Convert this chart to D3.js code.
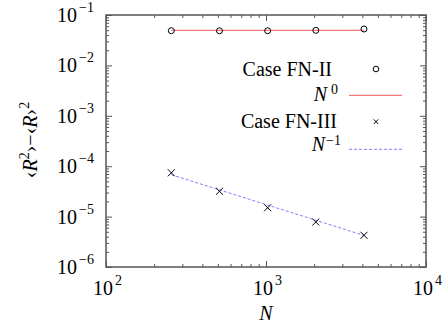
<!DOCTYPE html>
<html lang="en">
<head>
<meta charset="UTF-8">
<title>variance vs N</title>
<script src="https://d3js.org/d3.v7.min.js"></script>
<style>
  body { margin: 0; background: #fff; }
</style>
</head>
<body>
<div id="chart"></div>
<script>
  // data
  const sizes = [256, 512, 1024, 2048, 4096];
  const caseII = [0.0488, 0.0486, 0.0487, 0.0496, 0.0527];
  const caseIII = [7.4e-5, 3.18e-5, 1.50e-5, 7.8e-6, 4.26e-6];
  const fitII = 0.0496;          // N^0
  const fitIII = 0.01734;        // c * N^-1
  const xTicks = [2, 3, 4];      // exponents
  const yTicks = [-1, -2, -3, -4, -5, -6];

  const w = 447, h = 327;
  const pl = 106, pr = 426, pt = 15, pb = 267;
  const serif = "Liberation Serif";

  const svg = d3.select("#chart").append("svg")
    .attr("width", w)
    .attr("height", h)
    .attr("font-family", serif);

  const x = d3.scaleLog().domain([1e2, 1e4]).range([pl, pr]);
  const y = d3.scaleLog().domain([1e-6, 1e-1]).range([pb, pt]);

  // minor ticks 2..9 inside each decade
  const minorsX = [], minorsY = [];
  for (let e = 2; e < 4; e++) for (let k = 2; k < 10; k++) minorsX.push(k * Math.pow(10, e));
  for (let e = -6; e < -1; e++) for (let k = 2; k < 10; k++) minorsY.push(k * Math.pow(10, e));
  const majorsX = xTicks.map(e => Math.pow(10, e));
  const majorsY = yTicks.map(e => Math.pow(10, e));

  function ticks(axisFn, scale, vals, size, tx, ty) {
    svg.append("g")
      .attr("transform", `translate(${tx},${ty})`)
      .call(axisFn(scale).tickValues(vals).tickSize(size).tickFormat(""))
      .call(g => g.select(".domain").remove())
      .call(g => g.selectAll("line").attr("stroke", "#555").attr("stroke-width", 1));
  }
  // ticks point inwards on all four sides
  ticks(d3.axisBottom, x, majorsX, -6, 0, pb);
  ticks(d3.axisBottom, x, minorsX, -3, 0, pb);
  ticks(d3.axisTop, x, majorsX, -6, 0, pt);
  ticks(d3.axisTop, x, minorsX, -3, 0, pt);
  ticks(d3.axisLeft, y, majorsY, -6, pl, 0);
  ticks(d3.axisLeft, y, minorsY, -3, pl, 0);
  ticks(d3.axisRight, y, majorsY, -6, pr, 0);
  ticks(d3.axisRight, y, minorsY, -3, pr, 0);

  svg.append("rect")
    .attr("x", pl).attr("y", pt)
    .attr("width", pr - pl).attr("height", pb - pt)
    .attr("fill", "none")
    .attr("stroke", "#555")
    .attr("stroke-width", 1.5);

  function label(xx, yy, str, size, anchor, italic) {
    return svg.append("text")
      .attr("x", xx).attr("y", yy)
      .attr("text-anchor", anchor || "start")
      .attr("font-family", serif)
      .attr("font-size", size)
      .attr("font-style", italic ? "italic" : "normal")
      .attr("fill", "#000")
      .text(str);
  }

  // tick labels 10^n
  yTicks.forEach(e => {
    const yy = y(Math.pow(10, e));
    label(77, yy + 7, "10", 20, "end");
    label(79, yy - 3, "−" + (-e), 14);
  });
  xTicks.forEach(e => {
    const xx = x(Math.pow(10, e));
    label(xx + 7, 295, "10", 20, "end");
    label(xx + 9, 285, String(e), 14);
  });

  // axis titles
  label(x(1e3), 320, "N", 20, "middle", true);

  const yl = svg.append("text")
    .attr("transform", "translate(37,140) rotate(-90)")
    .attr("text-anchor", "middle")
    .attr("font-family", serif)
    .attr("font-size", 20);
  yl.append("tspan").text("‹");
  yl.append("tspan").attr("font-style", "italic").text("R");
  yl.append("tspan").attr("dy", -8).attr("font-size", 14).text("2");
  yl.append("tspan").attr("dy", 8).text("›−‹");
  yl.append("tspan").attr("font-style", "italic").text("R");
  yl.append("tspan").text("›");
  yl.append("tspan").attr("dy", -8).attr("font-size", 14).text("2");

  // fit lines
  const line = d3.line().x(d => x(d[0])).y(d => y(d[1]));
  svg.append("path")
    .datum(sizes.map(n => [n, fitII]))
    .attr("d", line)
    .attr("fill", "none").attr("stroke", "#f07878").attr("stroke-width", 1.2);
  svg.append("path")
    .datum(sizes.map(n => [n, fitIII / n]))
    .attr("d", line)
    .attr("fill", "none").attr("stroke", "#7f7fff").attr("stroke-width", 1)
    .attr("stroke-dasharray", "3,2");

  // markers
  svg.selectAll(".ii").data(sizes).enter().append("circle")
    .attr("cx", d => x(d))
    .attr("cy", (d, i) => y(caseII[i]))
    .attr("r", 3)
    .attr("fill", "none").attr("stroke", "#000").attr("stroke-width", 1);

  const cross = d3.symbol().type(d3.symbolTimes).size(34);
  svg.selectAll(".iii").data(sizes).enter().append("path")
    .attr("transform", (d, i) => `translate(${x(d)},${y(caseIII[i])})`)
    .attr("d", cross)
    .attr("fill", "none").attr("stroke", "#000").attr("stroke-width", 1);

  // legend
  label(332, 76, "Case FN-II", 20, "end");
  svg.append("circle").attr("cx", 376).attr("cy", 69).attr("r", 2.8)
    .attr("fill", "none").attr("stroke", "#000");

  label(327, 101, "N", 20, "end", true);
  label(331, 94, "0", 14);
  svg.append("line").attr("x1", 349).attr("x2", 402).attr("y1", 95.3).attr("y2", 95.3)
    .attr("stroke", "#f07878").attr("stroke-width", 1.2);

  label(337, 128, "Case FN-III", 20, "end");
  svg.append("path").attr("transform", "translate(376,121.7)")
    .attr("d", d3.symbol().type(d3.symbolTimes).size(16))
    .attr("fill", "none").attr("stroke", "#000");

  label(325, 151, "N", 20, "end", true);
  label(326, 145, "−1", 14);
  svg.append("line").attr("x1", 349).attr("x2", 402).attr("y1", 149.3).attr("y2", 149.3)
    .attr("stroke", "#7f7fff").attr("stroke-dasharray", "3,2");
</script>
</body>
</html>
